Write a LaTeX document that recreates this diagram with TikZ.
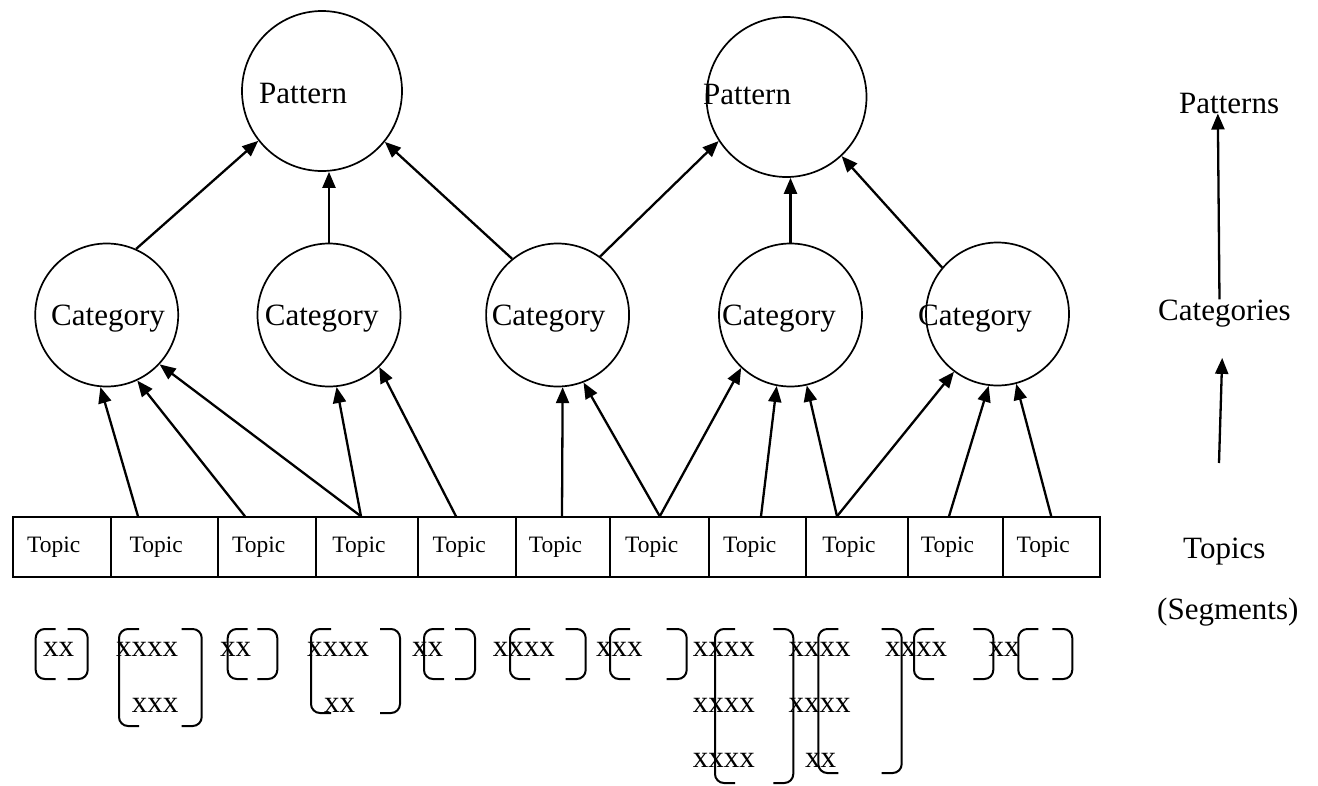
\documentclass[tikz,border=0pt]{standalone}
\usepackage{fontspec}
\setmainfont{Liberation Serif}
\usetikzlibrary{arrows.meta}

\tikzset{
  patnode/.style = {circle, draw, line width=1.7pt, inner sep=0pt, minimum size=160pt},
  catnode/.style = {circle, draw, line width=1.7pt, inner sep=0pt, minimum size=143pt},
  word/.style = {font=\fontsize{31}{37}\selectfont, inner sep=0pt, anchor=base west},
  topic/.style = {rectangle, draw, line width=2pt, minimum height=59.4pt,
    font=\fontsize{23.5}{28}\selectfont, execute at end node=\hspace{16pt}},
  arr/.style = {line width=2.3pt, -{Triangle[length=16pt,width=13pt]}},
  bracket/.style = {line width=2pt, rounded corners=9pt},
}

\begin{document}
\begin{tikzpicture}[x=1pt, y=-1pt]
\useasboundingbox (0,0) rectangle (1318,785);

% patterns and categories
\draw (322,91) node[patnode](p1){}
    (786.5,97) node[patnode](p2){}
    (106.7,315) node[catnode](c1){}
    (329,315) node[catnode](c2){}
    (557.6,315) node[catnode](c3){}
    (790.5,315) node[catnode](c4){}
    (997.5,314) node[catnode](c5){};
\node[word] (p1txt) at (259,103) {Pattern};
\node[word] (p2txt) at (703,104) {Pattern};
\node[word] (c1txt) at (51,325) {Category};
\node[word] (c2txt) at (264.7,325) {Category};
\node[word] (c3txt) at (491.6,325) {Category};
\node[word] (c4txt) at (722,325) {Category};
\node[word] (c5txt) at (918,325) {Category};

% topics
\draw (61.65,547) node[topic, minimum width=98.1pt](t1){Topic}
    (164.15,547) node[topic, minimum width=106.9pt](t2){Topic}
    (266.65,547) node[topic, minimum width=98.1pt](t3){Topic}
    (366.85,547) node[topic, minimum width=102.3pt](t4){Topic}
    (467.2,547) node[topic, minimum width=98.4pt](t5){Topic}
    (563.35,547) node[topic, minimum width=93.9pt](t6){Topic}
    (659.8,547) node[topic, minimum width=99pt](t7){Topic}
    (757.65,547) node[topic, minimum width=96.7pt](t8){Topic}
    (856.85,547) node[topic, minimum width=101.7pt](t9){Topic}
    (955.35,547) node[topic, minimum width=95.3pt](t10){Topic}
    (1051.25,547) node[topic, minimum width=96.5pt](t11){Topic};

\coordinate (s2) at ([xshift=28.3pt]t2.north west);
\coordinate (s3) at ([xshift=28.4pt]t3.north west);
\coordinate (s4) at ([xshift=46.3pt]t4.north west);
\coordinate (s5) at ([xshift=39pt]t5.north west);
\coordinate (s6) at ([xshift=46.6pt]t6.north west);
\coordinate (s8) at ([xshift=52.7pt]t8.north west);
\coordinate (s9) at ([xshift=32pt]t9.north west);
\coordinate (s10) at ([xshift=42.3pt]t10.north west);

% topic -> category
\draw[arr] (s2) -- (c1.265);
\draw[arr] (s3) -- (c1.295);
\draw[arr] (s4) -- (c1.317);
\draw[arr] (s4) -- (c2.276);
\draw[arr] (s5) -- (c2.314);
\draw[arr] (s6) -- (c3.274);
\draw[arr] (t7.north) -- (c3.291);
\draw[arr] (t7.north) -- (c4.227);
\draw[arr] (s8) -- (c4.259);
\draw[arr] (s9) -- (c4.283);
\draw[arr] (s9) -- (c5.233);
\draw[arr] (s10) -- (c5.263);
\draw[arr] (t11.north) -- (c5.285);

% category -> pattern
\draw[arr] (c1.66) -- (p1.218);
\draw[arr] (c2.north) -- (c2.north |- p1.south);
\draw[arr] (c3.129) -- (p1.321);
\draw[arr] (c3.54) -- (p2.213);
\draw[arr] (c4.north) -- (c4.north |- p2.south);
\draw[arr] (c5.140) -- (p2.313);

% levels on the right
\node[word] (pats) at (1179,113) {Patterns};
\node[word] (cats) at (1158,320) {Categories};
\node[word] (tops) at (1183,558) {Topics};
\node[word] (segs) at (1157,619) {(Segments)};
\coordinate (lowend) at (1219,463);
\draw[arr] ([xshift=-5pt]cats.north) -- ([xshift=-11.3pt]pats.south);
\draw[arr] (lowend) -- ([xshift=-2.3pt,yshift=-31pt]cats.south);

% segments
\foreach \l/\r/\b in {35.7/87.7/679, 119/201.7/726, 227.7/277.3/679, 311/400/713,
    424/475/679, 510/585.7/679, 610/686.7/679, 715/793.3/783, 818.3/901.7/773,
    914/993.3/679, 1018.3/1072.3/679}
  \draw[bracket] (\l+20,629) -- (\l,629) -- (\l,\b) -- (\l+20,\b)
    (\r-20,629) -- (\r,629) -- (\r,\b) -- (\r-20,\b);
\foreach \x/\y/\t [count=\i] in {43/656/xx, 116/656/xxxx, 220/656/xx, 307/656/xxxx,
    412/656/xx, 492.7/656/xxxx, 596/656/xxx, 692.7/656/xxxx, 788.3/656/xxxx,
    885/656/xxxx, 988.3/656/xx, 131.7/712/xxx, 324/712/xx, 692.7/712/xxxx,
    788.3/712/xxxx, 692.7/767/xxxx, 805/767/xx}
  \node[word] (seg\i) at (\x,\y) {\t};
\end{tikzpicture}
\end{document}
